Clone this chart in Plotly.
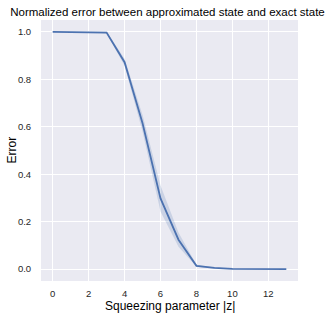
import plotly.graph_objects as go

z_values = [0, 1, 2, 3, 4, 5, 6, 7, 8, 9, 10, 11, 12, 13]
error_mean = [1.0, 1.0, 1.0, 0.997, 0.872, 0.615, 0.298, 0.124, 0.014, 0.005, 0.001, 0.0006, 0.0004, 0.0003]
error_lower = [1.0, 1.0, 1.0, 0.993, 0.857, 0.580, 0.243, 0.094, 0.010, 0.003, 0.0005, 0.0003, 0.0002, 0.0001]
error_upper = [1.0, 1.0, 1.0, 1.0, 0.887, 0.650, 0.353, 0.154, 0.018, 0.007, 0.0015, 0.0009, 0.0006, 0.0005]
x_ticks = [0, 2, 4, 6, 8, 10, 12]
y_ticks = [0.0, 0.2, 0.4, 0.6, 0.8, 1.0]

line_color = "#4c72b0"
text_color = "#262626"
font_family = "Liberation Sans, Arial, sans-serif"

W, H = 335, 318
L, R, T, B = 41, 37, 20, 37
pw, ph = W - L - R, H - T - B

fig = go.Figure()
fig.add_trace(go.Scatter(x=z_values, y=error_upper, mode="lines",
                         line=dict(width=0, color=line_color), showlegend=False, hoverinfo="skip"))
fig.add_trace(go.Scatter(x=z_values, y=error_lower, mode="lines", fill="tonexty",
                         fillcolor="rgba(76,114,176,0.2)",
                         line=dict(width=0, color=line_color), showlegend=False, hoverinfo="skip"))
fig.add_trace(go.Scatter(x=z_values, y=error_mean, mode="lines",
                         line=dict(width=1.8, color=line_color), showlegend=False))

fig.update_layout(
    width=W, height=H,
    margin=dict(l=L, r=R, t=T, b=B, autoexpand=False),
    paper_bgcolor="white",
    plot_bgcolor="#eaeaf2",
    font=dict(family=font_family, color=text_color, size=10),
    title=dict(text="Normalized error between approximated state and exact state",
               x=0.5, xref="container", xanchor="center", y=1 - 12 / H, yanchor="middle",
               font=dict(size=11.5, color="#000000")),
    annotations=[
        dict(text="Squeezing parameter |z|", xref="paper", yref="paper",
             x=0.5, y=(H - B - 305.5) / ph, xanchor="center", yanchor="middle",
             showarrow=False, font=dict(size=12, color="#000000")),
        dict(text="Error", xref="paper", yref="paper",
             x=(11 - L) / pw, y=0.5, xanchor="center", yanchor="middle", textangle=-90,
             showarrow=False, font=dict(size=12, color="#000000")),
    ],
)
fig.update_xaxes(
    range=[-0.65, 13.65], tickvals=x_ticks, ticktext=[str(v) for v in x_ticks],
    showgrid=True, gridcolor="white", gridwidth=1.2, zeroline=False, showline=False,
    ticks="outside", ticklen=4, tickcolor="rgba(0,0,0,0)", automargin=False,
    tickfont=dict(size=9.5, color=text_color),
)
fig.update_yaxes(
    range=[-0.05, 1.05], tickvals=y_ticks, ticktext=[f"{v:.1f}" for v in y_ticks],
    showgrid=True, gridcolor="white", gridwidth=1.2, zeroline=False, showline=False,
    ticks="outside", ticklen=7, tickcolor="rgba(0,0,0,0)", automargin=False,
    tickfont=dict(size=9.5, color=text_color),
)

fig.write_html("out.html", config={"displayModeBar": False})
with open("out.html", "r", encoding="utf-8") as f:
    html = f.read()
html = html.replace("<head>", "<head><style>html,body{margin:0;padding:0;overflow:hidden;}</style>", 1)
with open("out.html", "w", encoding="utf-8") as f:
    f.write(html)
